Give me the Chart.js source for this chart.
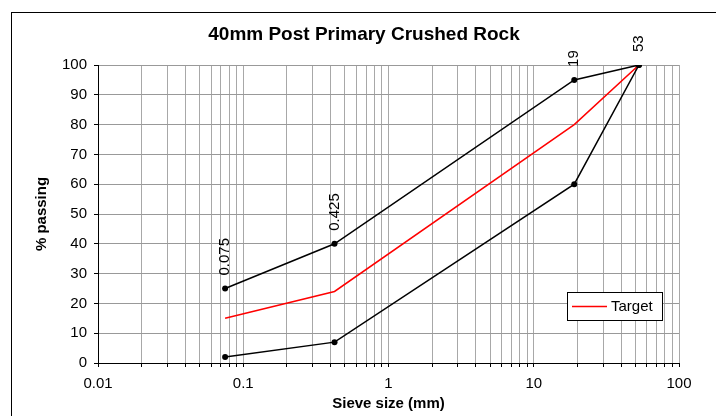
<!DOCTYPE html>
<html>
<head>
<meta charset="utf-8">
<script src="https://cdn.jsdelivr.net/npm/chart.js@4.4.1/dist/chart.umd.min.js"></script>
<style>
html,body{margin:0;padding:0;background:#fff;}
#wrap{width:716px;height:416px;position:relative;}
</style>
</head>
<body>
<div id="wrap"><canvas id="c" width="716" height="416"></canvas></div>
<script>
// ---- data ----
const sieveSizes = [0.075, 0.425, 19, 53];
const upperLimit = [25, 40, 95, 100];
const lowerLimit = [2, 7, 60, 100];
const targetGrading = [15, 24, 80, 100];
const pointLabels = ["0.075", "0.425", "19", "53"];
const xTickLabels = ["0.01", "0.1", "1", "10", "100"];
const yTickValues = [0, 10, 20, 30, 40, 50, 60, 70, 80, 90, 100];
const chartTitle = "40mm Post Primary Crushed Rock";
const xAxisTitle = "Sieve size (mm)";
const yAxisTitle = "% passing";
const legendLabel = "Target";

const FONT = '"Liberation Sans", Arial, sans-serif';

const toXY = (xs, ys) => xs.map((x, i) => ({x: x, y: ys[i]}));

// all 1..9 x 10^n gridline positions between 0.01 and 100
const decadeStarts = xTickLabels.map(Number);
const xGridValues = [];
decadeStarts.slice(0, -1).forEach(d => { for (let m = 1; m <= 9; m++) xGridValues.push(+(m * d).toPrecision(2)); });
xGridValues.push(decadeStarts[decadeStarts.length - 1]);

const decor = {
  id: 'decor',
  beforeDraw(chart) {
    const c = chart.ctx;
    c.save();
    c.fillStyle = '#fff';
    c.fillRect(0, 0, chart.width, chart.height);
    c.strokeStyle = '#000';
    c.lineWidth = 1;
    c.strokeRect(11.5, 12.5, 800, 500);
    c.restore();
  },
  afterDraw(chart) {
    const c = chart.ctx;
    const a = chart.chartArea;
    c.save();
    c.fillStyle = '#000';
    c.textAlign = 'center';
    c.textBaseline = 'middle';
    c.font = 'bold 19px ' + FONT;
    c.fillText(chartTitle, 364, 35);
    c.font = 'bold 15px ' + FONT;
    c.fillText(xAxisTitle, (a.left + a.right) / 2, 404);
    c.save();
    c.translate(42, (a.top + a.bottom) / 2);
    c.rotate(-Math.PI / 2);
    c.fillText(yAxisTitle, 0, 0);
    c.restore();
    // point labels above upper limit points
    const meta = chart.getDatasetMeta(0);
    c.font = '15px ' + FONT;
    c.textAlign = 'left';
    meta.data.forEach((pt, i) => {
      c.save();
      c.translate(pt.x, pt.y - 13);
      c.rotate(-Math.PI / 2);
      c.fillText(pointLabels[i], 0, 0);
      c.restore();
    });
    // legend
    c.fillStyle = '#fff';
    c.fillRect(567, 292, 95, 28);
    c.strokeStyle = '#000';
    c.lineWidth = 1;
    c.strokeRect(567.5, 292.5, 95, 28);
    c.strokeStyle = '#ff0000';
    c.lineWidth = 1.5;
    c.beginPath();
    c.moveTo(572, 306.5);
    c.lineTo(607, 306.5);
    c.stroke();
    c.fillStyle = '#000';
    c.textAlign = 'left';
    c.textBaseline = 'middle';
    c.fillText(legendLabel, 611, 306.5);
    c.restore();
  }
};

new Chart(document.getElementById('c'), {
  type: 'scatter',
  data: {
    datasets: [
      {label: 'Upper', data: toXY(sieveSizes, upperLimit), showLine: true, borderColor: '#000', backgroundColor: '#000', borderWidth: 1.5, pointRadius: 3, pointBorderWidth: 0, tension: 0},
      {label: 'Lower', data: toXY(sieveSizes, lowerLimit), showLine: true, borderColor: '#000', backgroundColor: '#000', borderWidth: 1.5, pointRadius: 3, pointBorderWidth: 0, tension: 0},
      {label: legendLabel, data: toXY(sieveSizes, targetGrading), showLine: true, borderColor: '#ff0000', backgroundColor: '#ff0000', borderWidth: 1.5, pointRadius: 0, tension: 0}
    ]
  },
  options: {
    responsive: false,
    devicePixelRatio: 1,
    animation: false,
    layout: {padding: {left: 0, right: 37, top: 65, bottom: 0}},
    plugins: {legend: {display: false}, title: {display: false}, tooltip: {enabled: false}},
    scales: {
      x: {
        type: 'logarithmic',
        min: 0.01,
        max: 100,
        afterBuildTicks(scale) { scale.ticks = xGridValues.map(v => ({value: v})); },
        afterFit(scale) { scale.height = 53; },
        ticks: {
          autoSkip: false,
          maxRotation: 0,
          padding: 8,
          color: '#000',
          font: {family: FONT, size: 15},
          callback(v) { const s = String(+Number(v).toPrecision(2)); return xTickLabels.includes(s) ? s : ''; }
        },
        grid: {color: '#a8a8a8', lineWidth: 1, tickLength: 4, tickColor: '#000', drawTicks: true},
        border: {color: '#000', width: 1}
      },
      y: {
        type: 'linear',
        min: 0,
        max: 100,
        afterBuildTicks(scale) { scale.ticks = yTickValues.map(v => ({value: v})); },
        afterFit(scale) { scale.width = 98; },
        ticks: {
          padding: 7,
          color: '#000',
          font: {family: FONT, size: 15}
        },
        grid: {color: '#999999', lineWidth: 1, tickLength: 4, tickColor: '#000', drawTicks: true},
        border: {color: '#000', width: 1}
      }
    }
  },
  plugins: [decor]
});
</script>
</body>
</html>
